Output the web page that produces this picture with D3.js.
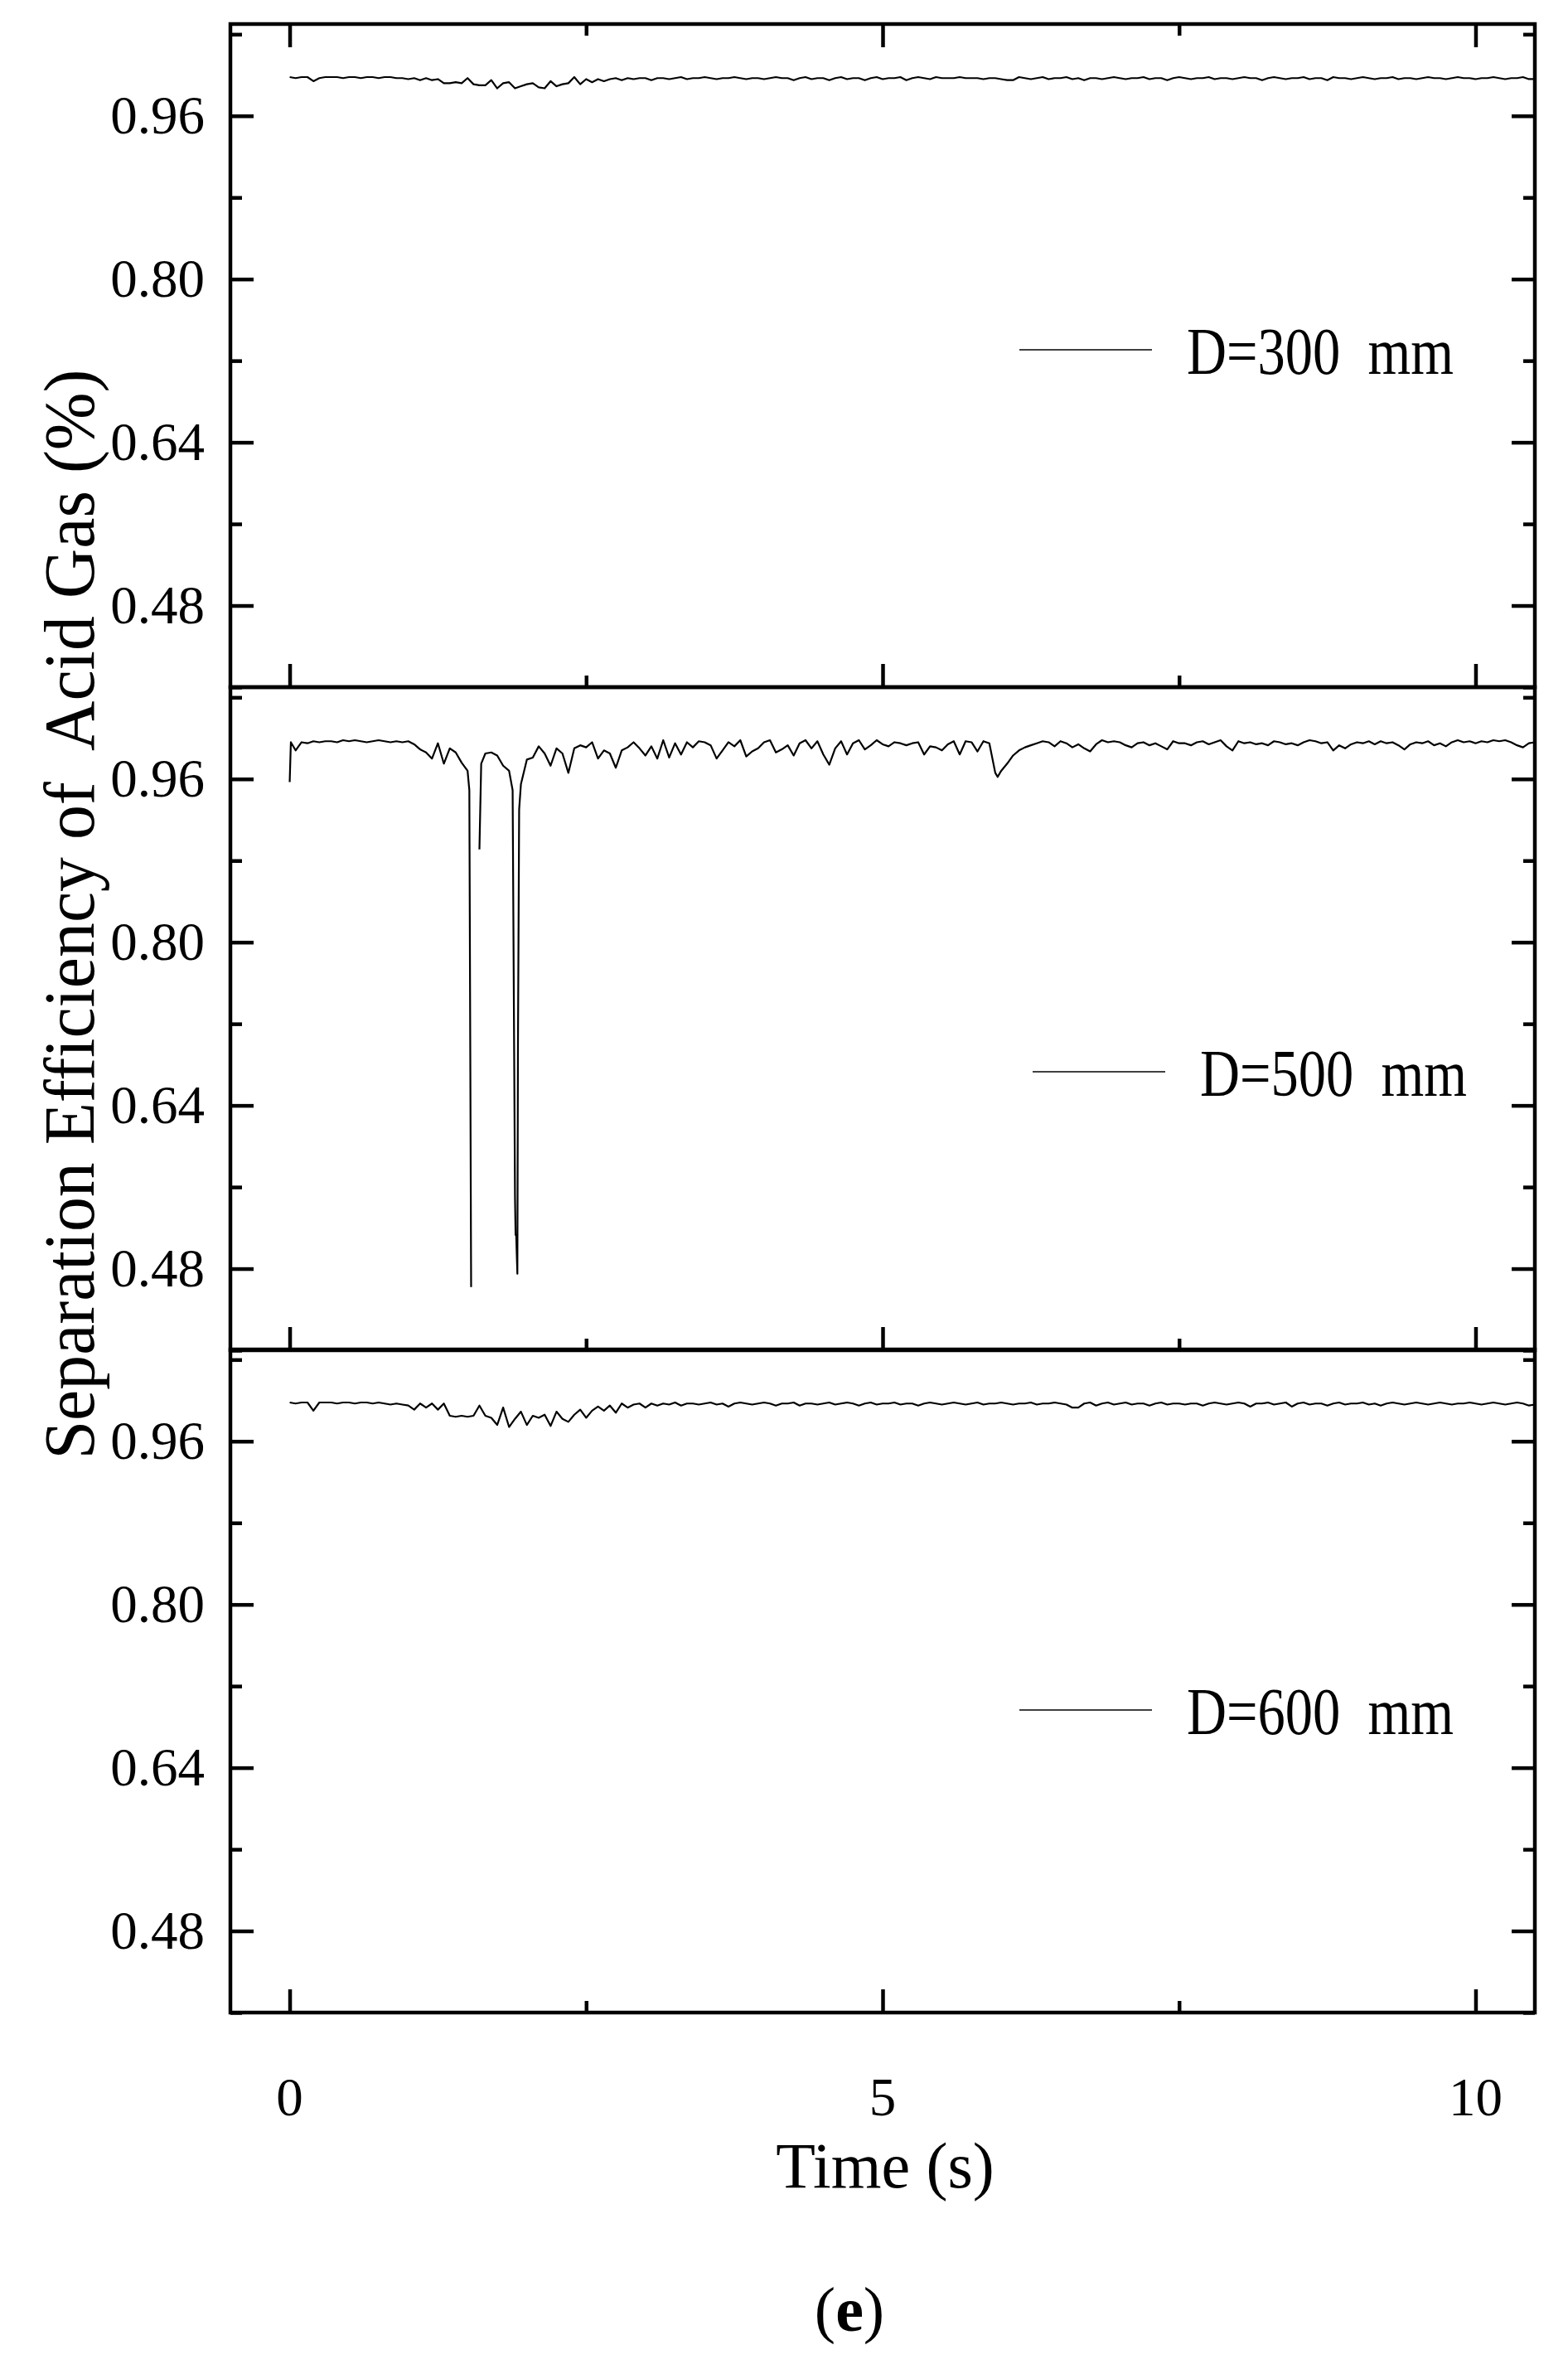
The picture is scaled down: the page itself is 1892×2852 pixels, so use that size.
<!DOCTYPE html>
<html><head><meta charset="utf-8">
<script src="https://cdn.jsdelivr.net/npm/d3@7"></script>
<style>
body{margin:0;background:#fff}
svg{display:block;background:#fff}
text{font-family:"Liberation Serif","Times New Roman",serif;fill:#000;white-space:pre}
</style>
</head><body><svg id="chart" width="1892" height="2852"></svg>
<script>
// ---- sampling grid (time, s) ----
const sampleTimes = d3.range(0, 211).map(i => +(i * 0.05).toFixed(2));

// ---- series values ----
const d300 = [
0.998,0.997,0.998,0.998,0.994,0.997,0.998,0.998,0.998,0.997,
0.998,0.998,0.997,0.998,0.998,0.997,0.998,0.998,0.997,0.997,
0.996,0.997,0.995,0.997,0.995,0.996,0.992,0.992,0.993,0.992,
0.997,0.991,0.990,0.990,0.995,0.987,0.992,0.993,0.987,0.989,
0.991,0.992,0.988,0.987,0.994,0.989,0.991,0.992,0.998,0.991,
0.996,0.993,0.996,0.994,0.996,0.997,0.995,0.997,0.996,0.997,
0.997,0.995,0.997,0.997,0.996,0.997,0.998,0.996,0.997,0.997,
0.998,0.997,0.996,0.997,0.997,0.998,0.997,0.996,0.997,0.997,
0.996,0.997,0.998,0.997,0.997,0.995,0.997,0.998,0.996,0.997,
0.997,0.995,0.997,0.998,0.996,0.997,0.997,0.995,0.997,0.998,
0.996,0.997,0.997,0.998,0.995,0.997,0.998,0.997,0.996,0.998,
0.997,0.997,0.997,0.998,0.997,0.997,0.997,0.996,0.997,0.997,
0.996,0.995,0.995,0.998,0.997,0.996,0.997,0.998,0.996,0.997,
0.997,0.998,0.996,0.997,0.995,0.997,0.997,0.996,0.997,0.998,
0.997,0.996,0.997,0.997,0.998,0.996,0.997,0.997,0.995,0.997,
0.998,0.997,0.996,0.997,0.997,0.998,0.996,0.997,0.997,0.996,
0.997,0.998,0.997,0.997,0.995,0.997,0.998,0.997,0.996,0.997,
0.997,0.998,0.996,0.997,0.997,0.995,0.998,0.997,0.997,0.996,
0.997,0.998,0.997,0.996,0.997,0.997,0.998,0.996,0.997,0.997,
0.996,0.997,0.998,0.997,0.997,0.996,0.997,0.998,0.997,0.997,
0.996,0.997,0.997,0.998,0.997,0.996,0.997,0.997,0.998,0.996,0.996
];

const d500 = [
0.957,0.988,0.996,0.995,0.997,0.996,0.997,0.997,0.996,0.998,
0.997,0.998,0.997,0.996,0.997,0.998,0.997,0.996,0.997,0.996,
0.997,0.994,0.989,0.986,0.980,0.995,0.975,0.990,0.986,0.976,
0.968,null,0.891,0.985,0.986,0.983,0.973,0.968,0.550,0.955,
0.979,0.981,0.992,0.985,0.973,0.990,0.985,0.966,0.990,0.993,
0.991,0.996,0.980,0.988,0.985,0.971,0.988,0.991,0.996,0.990,
0.983,0.992,0.980,0.998,0.981,0.995,0.984,0.996,0.991,0.997,
0.996,0.993,0.980,0.988,0.996,0.992,0.998,0.982,0.987,0.990,
0.996,0.998,0.986,0.989,0.993,0.983,0.995,0.998,0.990,0.997,
0.984,0.974,0.990,0.997,0.984,0.995,0.998,0.989,0.993,0.998,
0.994,0.992,0.996,0.995,0.993,0.995,0.996,0.984,0.992,0.991,
0.988,0.994,0.997,0.984,0.997,0.996,0.987,0.997,0.995,0.966,
0.968,0.975,0.983,0.988,0.991,0.993,0.995,0.997,0.996,0.992,
0.997,0.995,0.991,0.994,0.990,0.987,0.994,0.998,0.996,0.997,
0.996,0.993,0.991,0.995,0.996,0.993,0.995,0.992,0.989,0.997,
0.995,0.995,0.993,0.996,0.997,0.994,0.996,0.998,0.992,0.988,
0.997,0.995,0.996,0.994,0.995,0.993,0.997,0.996,0.994,0.995,
0.993,0.996,0.998,0.997,0.995,0.996,0.988,0.993,0.990,0.994,
0.996,0.995,0.997,0.994,0.997,0.995,0.996,0.993,0.989,0.994,
0.996,0.995,0.997,0.993,0.995,0.992,0.996,0.998,0.996,0.997,
0.995,0.997,0.996,0.998,0.997,0.998,0.996,0.993,0.991,0.995,0.996
];
// extra off-grid readings of the D=500 trace (sharp spikes)
const d500ExtraTimes  = [0.01, 1.515, 1.53, 1.615, 1.88, 1.905, 1.91, 1.92, 1.925, 1.935, 5.97];
const d500ExtraValues = [0.996, 0.949, 0.462, 0.975, 0.949, 0.513, 0.513, 0.475, 0.700, 0.930, 0.962];

const d600 = [
0.998,0.997,0.998,0.998,0.990,0.998,0.998,0.998,0.997,0.998,
0.998,0.997,0.998,0.998,0.997,0.998,0.997,0.996,0.997,0.996,
0.995,0.991,0.997,0.993,0.997,0.991,0.997,0.985,0.984,0.985,
0.984,0.985,0.995,0.985,0.983,0.976,0.993,0.974,0.982,0.989,
0.976,0.985,0.983,0.986,0.975,0.989,0.982,0.979,0.986,0.991,
0.983,0.990,0.994,0.990,0.995,0.988,0.997,0.993,0.996,0.997,
0.993,0.997,0.995,0.997,0.996,0.998,0.995,0.997,0.997,0.996,
0.997,0.998,0.996,0.997,0.994,0.997,0.998,0.997,0.996,0.997,
0.998,0.997,0.995,0.997,0.997,0.998,0.995,0.997,0.997,0.996,
0.997,0.998,0.996,0.997,0.998,0.997,0.995,0.997,0.998,0.996,
0.997,0.997,0.998,0.996,0.997,0.997,0.995,0.997,0.998,0.997,
0.996,0.997,0.998,0.997,0.996,0.997,0.998,0.996,0.997,0.997,
0.998,0.997,0.996,0.997,0.997,0.998,0.996,0.997,0.997,0.998,
0.997,0.996,0.993,0.993,0.997,0.998,0.995,0.997,0.998,0.996,
0.997,0.998,0.996,0.997,0.997,0.995,0.997,0.998,0.996,0.997,
0.997,0.996,0.997,0.997,0.995,0.997,0.998,0.997,0.996,0.997,
0.998,0.997,0.994,0.997,0.997,0.998,0.996,0.997,0.998,0.994,
0.997,0.998,0.996,0.997,0.997,0.995,0.997,0.998,0.996,0.997,
0.997,0.998,0.996,0.997,0.995,0.997,0.998,0.997,0.996,0.997,
0.998,0.997,0.996,0.997,0.998,0.997,0.996,0.997,0.997,0.998,
0.997,0.996,0.997,0.998,0.997,0.996,0.997,0.998,0.997,0.995,0.996
];

const seriesLabels = ["D=300  mm", "D=500  mm", "D=600  mm"];
const yMajorTicks = [0.48, 0.64, 0.80, 0.96];
const yMinorTicks = [0.40, 0.56, 0.72, 0.88, 1.04];
const xMajorTicks = [0, 5, 10];
const xMinorTicks = [2.5, 7.5];
const yTitle = "Separation Efficiency of  Acid Gas (%)";
const xTitle = "Time (s)";
const panelTag = "e";

// ---- build point lists ----
function pts(times, vals) { return times.map((t, i) => ({t, v: vals[i]})); }
const series = [
  pts(sampleTimes, d300),
  pts(sampleTimes, d500).concat(pts(d500ExtraTimes, d500ExtraValues)).sort((a, b) => a.t - b.t),
  pts(sampleTimes, d600)
];

// ---- layout ----
const svg = d3.select("#chart");
const L = 278, R = 1852;
const panelTops = [29, 829, 1628];
const PH = 800;
const AX = 4.5;
const MAJ = 28, MIN = 14;

const x = d3.scaleLinear().domain([-0.5, 10.5]).range([L, R]);

const legendPos = [
  {x1: 1230, x2: 1390, y: 422, tx: 1432, ty: 451},
  {x1: 1246, x2: 1406, y: 1293, tx: 1448, ty: 1322},
  {x1: 1230, x2: 1390, y: 2063, tx: 1432, ty: 2092}
];

series.forEach((data, p) => {
  const top = panelTops[p];
  const y = d3.scaleLinear().domain([0.40, 1.05]).range([top + PH, top]);
  const g = svg.append("g");

  // data line
  const line = d3.line().defined(d => d.v != null).x(d => x(d.t)).y(d => y(d.v));
  g.append("path").datum(data).attr("d", line)
    .attr("fill", "none").attr("stroke", "#000").attr("stroke-width", 2.2)
    .attr("stroke-linejoin", "round");

  // left axis
  const la = g.append("g").attr("transform", `translate(${L},0)`)
    .call(d3.axisLeft(y).tickValues(yMajorTicks).tickSize(-MAJ).tickSizeOuter(0)
      .tickPadding(31).tickFormat(d3.format(".2f")));
  la.select(".domain").remove();
  la.selectAll("line").attr("stroke-width", AX);
  la.selectAll("text").attr("font-size", 65).attr("font-family", '"Liberation Serif","Times New Roman",serif');
  const lm = g.append("g").attr("transform", `translate(${L},0)`)
    .call(d3.axisLeft(y).tickValues(yMinorTicks).tickSize(-MIN).tickSizeOuter(0).tickFormat(""));
  lm.select(".domain").remove();
  lm.selectAll("line").attr("stroke-width", AX);

  // right axis
  [[yMajorTicks, MAJ], [yMinorTicks, MIN]].forEach(([tv, len]) => {
    const ra = g.append("g").attr("transform", `translate(${R},0)`)
      .call(d3.axisRight(y).tickValues(tv).tickSize(-len).tickSizeOuter(0).tickFormat(""));
    ra.select(".domain").remove();
    ra.selectAll("line").attr("stroke-width", AX);
  });

  // bottom axis ticks (inward)
  [[xMajorTicks, MAJ], [xMinorTicks, MIN]].forEach(([tv, len]) => {
    const ba = g.append("g").attr("transform", `translate(0,${top + PH})`)
      .call(d3.axisBottom(x).tickValues(tv).tickSize(-len).tickSizeOuter(0).tickFormat(""));
    ba.select(".domain").remove();
    ba.selectAll("line").attr("stroke-width", AX);
    if (p === 0) {
      const ta = g.append("g").attr("transform", `translate(0,${top})`)
        .call(d3.axisTop(x).tickValues(tv).tickSize(-len).tickSizeOuter(0).tickFormat(""));
      ta.select(".domain").remove();
      ta.selectAll("line").attr("stroke-width", AX);
    }
  });

  // frame
  g.append("rect").attr("x", L).attr("y", top).attr("width", R - L).attr("height", PH)
    .attr("fill", "none").attr("stroke", "#000").attr("stroke-width", AX);

  // legend
  const lp = legendPos[p];
  g.append("line").attr("x1", lp.x1).attr("x2", lp.x2).attr("y1", lp.y).attr("y2", lp.y)
    .attr("stroke", "#000").attr("stroke-width", 1.6);
  g.append("text").attr("x", lp.tx).attr("y", lp.ty).attr("font-size", 80)
    .attr("textLength", 322).attr("lengthAdjust", "spacingAndGlyphs")
    .text(seriesLabels[p]);
});

// x tick labels under the last panel
const bottomY = panelTops[2] + PH;
svg.append("g").selectAll("text").data(xMajorTicks).join("text")
  .attr("x", d => x(d)).attr("y", bottomY + 124)
  .attr("text-anchor", "middle").attr("font-size", 65).text(d => d);

// axis titles
svg.append("text").attr("x", 1068).attr("y", 2639).attr("text-anchor", "middle")
  .attr("font-size", 78).text(xTitle);
svg.append("text").attr("transform", "translate(113,1103) rotate(-90)")
  .attr("text-anchor", "middle").attr("font-size", 86)
  .attr("textLength", 1315).attr("lengthAdjust", "spacingAndGlyphs").text(yTitle);

// panel tag
const tag = svg.append("text").attr("x", 1025).attr("y", 2812).attr("text-anchor", "middle").attr("font-size", 76);
tag.append("tspan").text("(");
tag.append("tspan").attr("font-weight", "bold").text(panelTag);
tag.append("tspan").text(")");
</script>
</body></html>
